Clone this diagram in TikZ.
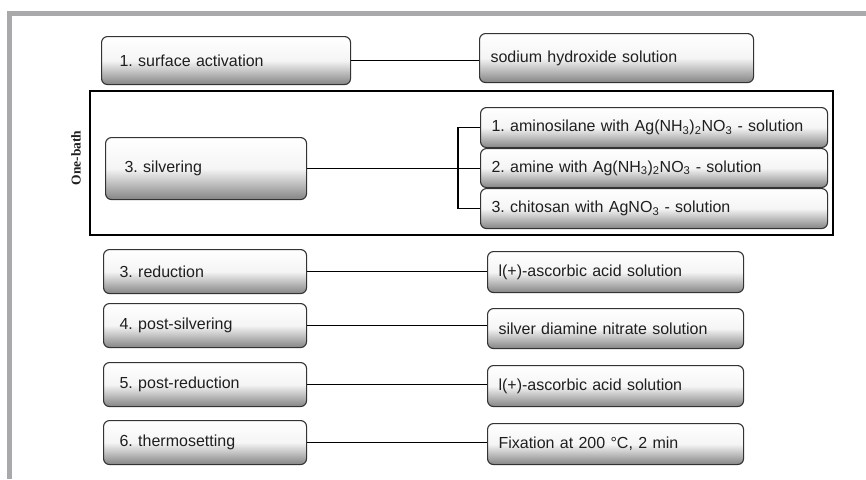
\documentclass[tikz,border=0pt]{standalone}
\usepackage{fontspec}
\setmainfont{Liberation Sans}
\newfontfamily\onebathfont{Liberation Serif}
\definecolor{framegray}{HTML}{A9A9AB}
\tikzset{
  box/.style={draw=black!80, line width=1.1pt, rounded corners=6pt,
    top color=white, bottom color=black!48, middle color=black!4,
    anchor=north west, align=left, inner ysep=0pt, text=black!88,
    font=\fontsize{16}{19}\selectfont},
  link/.style={line width=1.8pt, black},
  bathframe/.style={line width=1.6pt, black}
}
\begin{document}
\frenchspacing
\begin{tikzpicture}[x=1pt,y=-1pt]
\useasboundingbox (0,0) rectangle (866,479);
% grey page frame
\fill[framegray] (7,11) rectangle (866,16);
\fill[framegray] (7,11) rectangle (12,479);
% one-bath frame
\draw[bathframe] (90,91) rectangle (833,235);
\node[rotate=90, font=\onebathfont\bfseries\fontsize{13.5}{16}\selectfont, text=black!88] (ob) at (76,158) {One-bath};
% left boxes
\node[box, minimum width=249pt, minimum height=48pt, inner xsep=18pt, text width=213pt] (A1) at (101,36) {1. surface activation};
\node[box, minimum width=201pt, minimum height=62pt, inner xsep=19pt, text width=163pt] (S) at (105,137) {3. silvering};
\node[box, minimum width=203pt, minimum height=44pt, inner xsep=16pt, text width=171pt] (A3) at (103,249) {3. reduction};
\node[box, minimum width=203pt, minimum height=44pt, inner xsep=16pt, text width=171pt] (A4) at (103,303) {4. post-silvering};
\node[box, minimum width=203pt, minimum height=44pt, inner xsep=16pt, text width=171pt] (A5) at (103,362) {5. post-reduction};
\node[box, minimum width=203pt, minimum height=44pt, inner xsep=16pt, text width=171pt] (A6) at (103,420) {6. thermosetting};
% right boxes
\node[box, minimum width=274pt, minimum height=49pt, inner xsep=11pt, text width=252pt] (B1) at (479,33) {sodium hydroxide solution};
\node[box, minimum width=347pt, minimum height=40pt, inner xsep=11pt, text width=325pt] (R1) at (480,107) {1. aminosilane with Ag(NH\textsubscript{3})\textsubscript{2}NO\textsubscript{3} - solution};
\node[box, minimum width=347pt, minimum height=39pt, inner xsep=11pt, text width=325pt] (R2) at (480,148) {2. amine with Ag(NH\textsubscript{3})\textsubscript{2}NO\textsubscript{3} - solution};
\node[box, minimum width=347pt, minimum height=40pt, inner xsep=11pt, text width=325pt] (R3) at (480,188) {3. chitosan with AgNO\textsubscript{3} - solution};
\node[box, minimum width=256pt, minimum height=41pt, inner xsep=11pt, text width=234pt] (B3) at (487,251) {l(+)-ascorbic acid solution};
\node[box, minimum width=256pt, minimum height=40pt, inner xsep=11pt, text width=234pt] (B4) at (487,308) {silver diamine nitrate solution};
\node[box, minimum width=256pt, minimum height=41pt, inner xsep=11pt, text width=234pt] (B5) at (487,365) {l(+)-ascorbic acid solution};
\node[box, minimum width=256pt, minimum height=41pt, inner xsep=11pt, text width=234pt] (B6) at (487,423) {Fixation at 200 °C, 2 min};
% connectors
\draw[link] (A1.east) -- (A1.east -| B1.west);
\draw[link] (S.east) -- (S.east -| R2.west);
\draw[link] (R1.west) -- ++(-22,0) |- (R3.west);
\draw[link] (A3.east) -- (A3.east -| B3.west);
\draw[link] (A4.east) -- (A4.east -| B4.west);
\draw[link] (A5.east) -- (A5.east -| B5.west);
\draw[link] (A6.east) -- (A6.east -| B6.west);
\end{tikzpicture}
\end{document}
